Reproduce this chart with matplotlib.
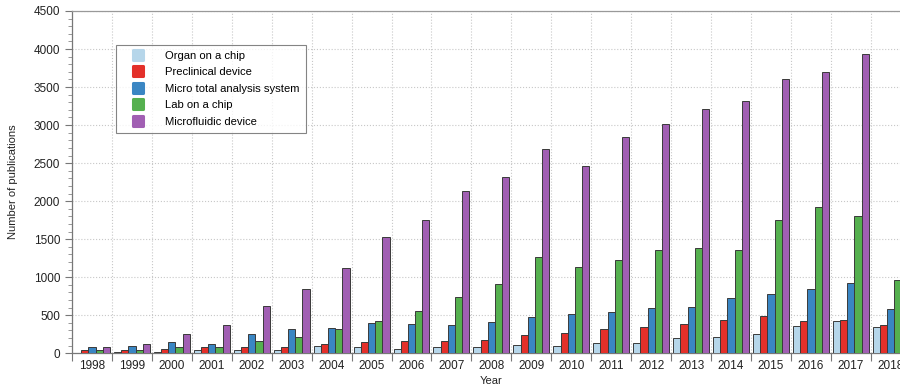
import numpy as np
import matplotlib.pyplot as plt
from matplotlib.lines import Line2D
from matplotlib.markers import MarkerStyle
from matplotlib.ticker import MultipleLocator, FixedLocator

plt.rcParams['font.family'] = ['Liberation Sans', 'DejaVu Sans']

years = list(range(1998, 2019))
organ_on_chip = [5, 20, 18, 44, 40, 44, 92, 88, 61, 88, 85, 110, 97, 136, 136, 197, 211, 250, 360, 421, 342]
preclinical = [40, 40, 53, 83, 88, 79, 120, 145, 162, 167, 171, 237, 268, 325, 351, 390, 439, 496, 425, 443, 377]
micro_tas = [83, 101, 154, 123, 250, 325, 335, 395, 382, 368, 410, 474, 513, 544, 601, 614, 728, 781, 847, 930, 584]
lab_on_chip = [40, 50, 88, 83, 162, 217, 316, 421, 555, 746, 917, 1272, 1141, 1228, 1360, 1386, 1360, 1746, 1926, 1799, 965]
microfluidic = [79, 123, 250, 369, 619, 849, 1123, 1531, 1746, 2132, 2316, 2689, 2465, 2847, 3018, 3215, 3320, 3602, 3702, 3935, 2705]

series = [
    ('Organ on a chip', organ_on_chip, '#b6d6ea'),
    ('Preclinical device', preclinical, '#e3302a'),
    ('Micro total analysis system', micro_tas, '#3a86c3'),
    ('Lab on a chip', lab_on_chip, '#55b04f'),
    ('Microfluidic device', microfluidic, '#a15fb3'),
]

fig = plt.figure(figsize=(9, 3.91), dpi=100)
# axes runs past the right edge so the last year group is cut off
ax = fig.add_axes([0.08, 0.0964, 0.932, 0.8755])

x = np.arange(len(years))
w = 0.18
for i, (name, vals, col) in enumerate(series):
    ax.bar(x + (i - 2) * w, vals, width=w, color=col, edgecolor='#3a3a3a',
           linewidth=0.7, zorder=3)

ax.set_xlim(-0.5, len(years) - 0.5)
ax.set_ylim(0, 4500)

ax.set_xticks(x)
ax.set_xticklabels([str(y) for y in years])
ax.xaxis.set_minor_locator(FixedLocator(np.arange(-0.5, len(years), 1.0)))
ax.tick_params(axis='x', which='major', length=0, pad=5, labelsize=8.5, labelcolor='#222222')
ax.tick_params(axis='x', which='minor', length=6, width=0.8, color='#777777', direction='out')

ax.yaxis.set_major_locator(MultipleLocator(500))
ax.yaxis.set_minor_locator(MultipleLocator(100))
ax.tick_params(axis='y', which='major', length=5, width=0.8, color='#777777', labelsize=8.5, labelcolor='#222222')
ax.tick_params(axis='y', which='minor', length=3, width=0.6, color='#888888')

ax.grid(True, axis='y', which='major', linestyle=':', color='#c8c8c8', linewidth=0.8, zorder=0)
ax.grid(True, axis='x', which='minor', linestyle=':', color='#c8c8c8', linewidth=0.8, zorder=0)

for s in ax.spines.values():
    s.set_color('#999999')
    s.set_linewidth(0.9)
ax.spines['left'].set_color('#777777')
ax.spines['bottom'].set_color('#777777')

ax.set_xlabel('Year', fontsize=8, color='#222222', labelpad=3)
ax.set_ylabel('Number of publications', fontsize=8, color='#222222', labelpad=11)

handles = [Line2D([], [], linestyle='none',
                  marker=MarkerStyle('s', joinstyle='round'),
                  markersize=7.5, markerfacecolor=col, markeredgecolor=col,
                  markeredgewidth=2.2)
           for _, _, col in series]
leg = ax.legend(handles, [s[0] for s in series], loc='upper left',
                bbox_to_anchor=(0.053, 0.90), borderaxespad=0, fontsize=8.1,
                frameon=True, fancybox=False, edgecolor='#666666',
                labelspacing=0.58, handlelength=2.85, handletextpad=1.0,
                borderpad=0.5)
leg.get_frame().set_linewidth(0.8)

fig.savefig('out.png', dpi=100)
